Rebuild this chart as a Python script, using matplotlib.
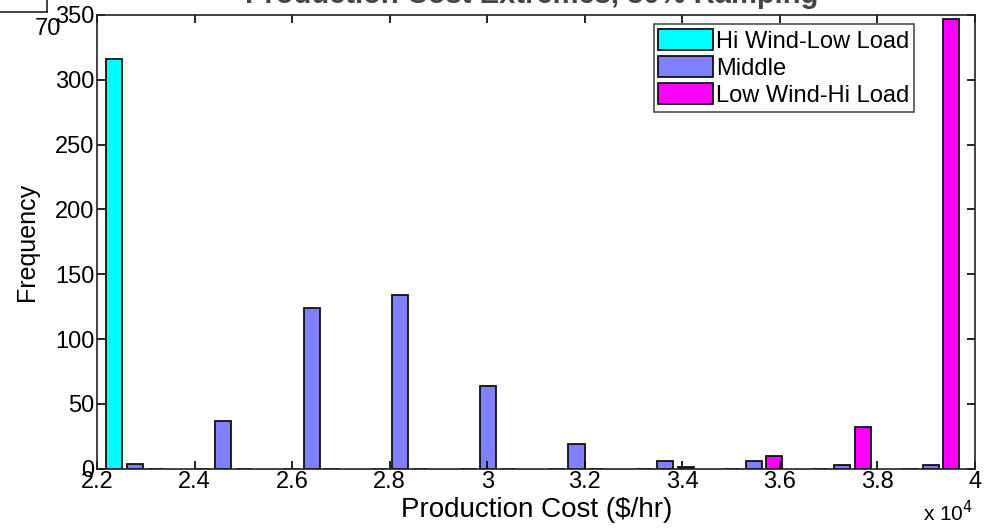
import matplotlib
matplotlib.use("Agg")
import matplotlib.pyplot as plt
import numpy as np
from matplotlib.lines import Line2D

# Data (x in units of 1e4 $/hr)
bin_centers = [2.277, 2.458, 2.640, 2.821, 3.002, 3.183, 3.365, 3.546, 3.727, 3.909]
hi_wind_low_load = [316, 0, 0, 0, 0, 0, 0, 0, 0, 0]
middle = [4, 37, 124, 134, 64, 19, 6, 6, 3, 3]
low_wind_hi_load = [0, 0, 0, 0, 0, 0, 1, 10, 32, 347]
series_names = ["Hi Wind-Low Load", "Middle", "Low Wind-Hi Load"]
series_colors = ["#00FFFF", "#8080FF", "#FF00FF"]
x_ticks = [2.2, 2.4, 2.6, 2.8, 3.0, 3.2, 3.4, 3.6, 3.8, 4.0]
x_tick_labels = ["2.2", "2.4", "2.6", "2.8", "3", "3.2", "3.4", "3.6", "3.8", "4"]
y_ticks = [0, 50, 100, 150, 200, 250, 300, 350]

plt.rcParams['font.family'] = ['Liberation Sans', 'DejaVu Sans']

fig = plt.figure(figsize=(9.84, 5.31), dpi=100)
ax = fig.add_axes([0.0986, 0.1173, 0.8923, 0.8545])

offset = 0.0425
width = 0.033
xc = np.array(bin_centers)
for k, (vals, col, name) in enumerate(zip([hi_wind_low_load, middle, low_wind_hi_load],
                                          series_colors, series_names)):
    ax.bar(xc + (k - 1) * offset, vals, width=width, color=col,
           edgecolor="#111111", linewidth=1.3, label=name)

ax.set_xlim(2.2, 4.0)
ax.set_ylim(0, 350)
ax.set_xticks(x_ticks)
ax.set_xticklabels(x_tick_labels)
ax.set_yticks(y_ticks)
ax.tick_params(direction='in', top=True, right=True, length=6, width=1.2,
               labelsize=17, pad=2)
for s in ax.spines.values():
    s.set_linewidth(1.2)
    s.set_color("#222222")

ax.set_xlabel("Production Cost ($/hr)", fontsize=20)
ax.xaxis.set_label_coords(0.501, -0.062)
ax.set_ylabel("Frequency", fontsize=18)
ax.yaxis.set_label_coords(-0.066, 0.5)

fig.text(0.963, 0.035, r"x 10$^4$", fontsize=15, ha='center', va='center')

leg = ax.legend(loc='upper right', bbox_to_anchor=(0.936, 0.99), fontsize=17,
                frameon=True, fancybox=False, edgecolor='#222222',
                handlelength=2.3, handleheight=1.0, handletextpad=0.15,
                borderpad=0.2, labelspacing=0.15, borderaxespad=0.2)
leg.get_frame().set_linewidth(1.2)

# Title partially cut off at the top
fig.text(0.54, 0.995, "Production Cost Extremes, 30% Ramping", fontsize=21,
         fontweight='bold', ha='center', va='baseline', color='#444444')

# Overlapping stray label and box from top-left
fig.text(0.049, 0.946, "70", fontsize=17, ha='center', va='center')
fig.add_artist(Line2D([0, 0.048], [0.977, 0.977], color='#222222', lw=1.2,
                      transform=fig.transFigure))
fig.add_artist(Line2D([0.048, 0.048], [0.977, 1.0], color='#222222', lw=1.2,
                      transform=fig.transFigure))

fig.savefig("out.png", dpi=100)
